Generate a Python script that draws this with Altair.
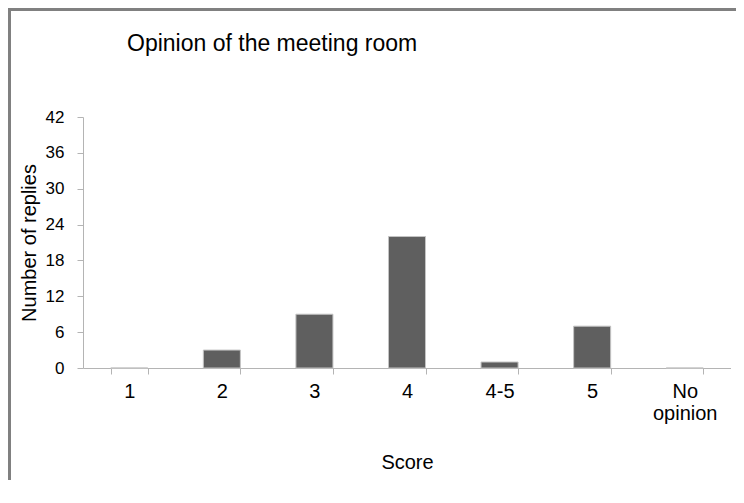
import altair as alt
import pandas as pd

categories = ["1", "2", "3", "4", "4-5", "5", "No opinion"]
replies = [0, 3, 9, 22, 1, 7, 0]
y_ticks = [0, 6, 12, 18, 24, 30, 36, 42]
chart_title = "Opinion of the meeting room"

df = pd.DataFrame({"Score": categories, "Replies": replies})

FONT = "Liberation Sans"
AXIS_GREY = "#b4b4b4"
BORDER = "#808080"

bars = alt.Chart(df).mark_bar(
    color="#5f5f5f", stroke="#c4c4c4", strokeWidth=1
).encode(
    x=alt.X(
        "Score:N",
        sort=categories,
        scale=alt.Scale(paddingInner=0.6, paddingOuter=0.3),
        axis=alt.Axis(
            title="Score",
            titleFont=FONT, titleFontSize=20, titleFontWeight="normal", titleColor="black",
            titleX=324, titleY=100, titleBaseline="alphabetic", titleAlign="center",
            labelFont=FONT, labelFontSize=20, labelColor="black", labelAngle=0,
            labelPadding=7, labelLineHeight=22,
            labelExpr="datum.label == 'No opinion' ? ['No', 'opinion'] : datum.label",
            tickBand="extent", tickSize=6, tickColor=AXIS_GREY, domainColor=AXIS_GREY,
            grid=False,
        ),
    ),
    y=alt.Y(
        "Replies:Q",
        scale=alt.Scale(domain=[0, 42], nice=False),
        axis=alt.Axis(
            title="Number of replies", values=y_ticks,
            titleFont=FONT, titleFontSize=20, titleFontWeight="normal", titleColor="black",
            titleX=-48, titleY=125.5, titleAngle=-90, titleBaseline="alphabetic", titleAlign="center",
            labelFont=FONT, labelFontSize=17, labelColor="black", labelPadding=13,
            tickSize=6, tickColor=AXIS_GREY, domainColor=AXIS_GREY, grid=False,
        ),
    ),
)

one = alt.Chart(pd.DataFrame({"t": [chart_title]}))

top_line = one.mark_rule(stroke=BORDER, strokeWidth=3).encode(
    x=alt.value(-76), x2=alt.value(653), y=alt.value(-107.5)
)
left_line = one.mark_rule(stroke=BORDER, strokeWidth=3).encode(
    x=alt.value(-73.5), y=alt.value(-109), y2=alt.value(363)
)
right_mask = one.mark_rule(stroke="white", strokeWidth=6).encode(
    x=alt.value(651), y=alt.value(-105.5), y2=alt.value(363)
)
title = one.mark_text(
    font=FONT, fontSize=23, color="black", align="left", baseline="alphabetic"
).encode(text="t:N", x=alt.value(44), y=alt.value(-66))

chart = alt.layer(top_line, left_line, title, bars, right_mask).properties(
    width=648,
    height=251,
    autosize=alt.AutoSizeParams(type="none"),
    padding={"left": 75, "top": 109, "right": 5, "bottom": 112},
).configure(background="white").configure_view(stroke=None)

chart.save("out.html", embed_options={"renderer": "svg", "actions": False})
